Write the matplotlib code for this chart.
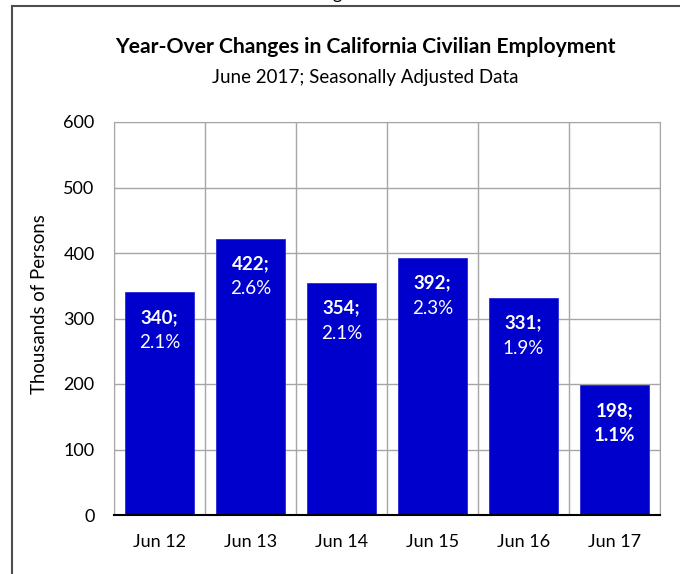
import matplotlib.pyplot as plt
from matplotlib.lines import Line2D

plt.rcParams['font.family'] = ['Lato', 'DejaVu Sans']

periods = ['Jun 12', 'Jun 13', 'Jun 14', 'Jun 15', 'Jun 16', 'Jun 17']
change_thousands = [340, 422, 354, 392, 331, 198]
change_pct = [2.1, 2.6, 2.1, 2.3, 1.9, 1.1]
y_ticks = [0, 100, 200, 300, 400, 500, 600]

W, H = 680, 574
fig = plt.figure(figsize=(W / 100, H / 100), dpi=100)
ax = fig.add_axes([114 / W, 1 - 515 / H, (660 - 114) / W, (515 - 122) / H])

x = range(len(periods))
bars = ax.bar(x, change_thousands, width=0.76, color='#0000cc',
              edgecolor='#2a2ad6', linewidth=0.6, zorder=3)

ax.set_xlim(-0.5, len(periods) - 0.5)
ax.set_ylim(0, 600)
ax.set_yticks(y_ticks)
ax.set_xticks(x)
ax.set_xticklabels(periods)
ax.set_xticks([i - 0.5 for i in range(len(periods) + 1)], minor=True)

ax.grid(axis='y', color='#a6a6a6', linewidth=1.0, zorder=0)
ax.grid(axis='x', which='minor', color='#a6a6a6', linewidth=1.0, zorder=0)
ax.tick_params(axis='both', which='both', length=0, labelsize=13, colors='black')
ax.tick_params(axis='x', pad=14)
ax.tick_params(axis='y', pad=14)

for side in ('top', 'right', 'left'):
    ax.spines[side].set_color('#a6a6a6')
ax.spines['bottom'].set_color('black')
ax.spines['bottom'].set_linewidth(1.5)
ax.spines['bottom'].set_zorder(4)

# axis title sits a little above the plot's mid-height
fig.text(40 / W, 1 - 304 / H, 'Thousands of Persons', rotation=90,
         ha='center', va='center', fontsize=13.4)

# value labels inside each bar, near the top
for i, (v, p) in enumerate(zip(change_thousands, change_pct)):
    last = i == len(periods) - 1
    ax.annotate(f'{v};', (i, v), xytext=(0, -18), textcoords='offset points',
                ha='center', va='center', color='white', fontsize=13.5,
                fontweight='bold', zorder=5)
    ax.annotate(f'{p:.1f}%', (i, v), xytext=(0, -36), textcoords='offset points',
                ha='center', va='center', color='white', fontsize=13.5,
                fontweight='bold' if last else 'normal', zorder=5)

fig.text(365 / W, 1 - 47 / H, 'Year-Over Changes in California Civilian Employment',
         ha='center', va='center', fontsize=15.2, fontweight='bold')
fig.text(365 / W, 1 - 78 / H, 'June 2017; Seasonally Adjusted Data',
         ha='center', va='center', fontsize=13.5)

# chart frame and the tail of the caption above it
fig.add_artist(Line2D([12 / W, 1.01], [1 - 6 / H, 1 - 6 / H],
                      transform=fig.transFigure, color='#4d4d4d', linewidth=1.5))
fig.add_artist(Line2D([12 / W, 12 / W], [-0.01, 1 - 6 / H],
                      transform=fig.transFigure, color='#4d4d4d', linewidth=1.5))
fig.text(337 / W, 1 + 1 / H, 'g', ha='center', va='baseline', fontsize=13)

fig.savefig('out.png', dpi=100, facecolor='white')
